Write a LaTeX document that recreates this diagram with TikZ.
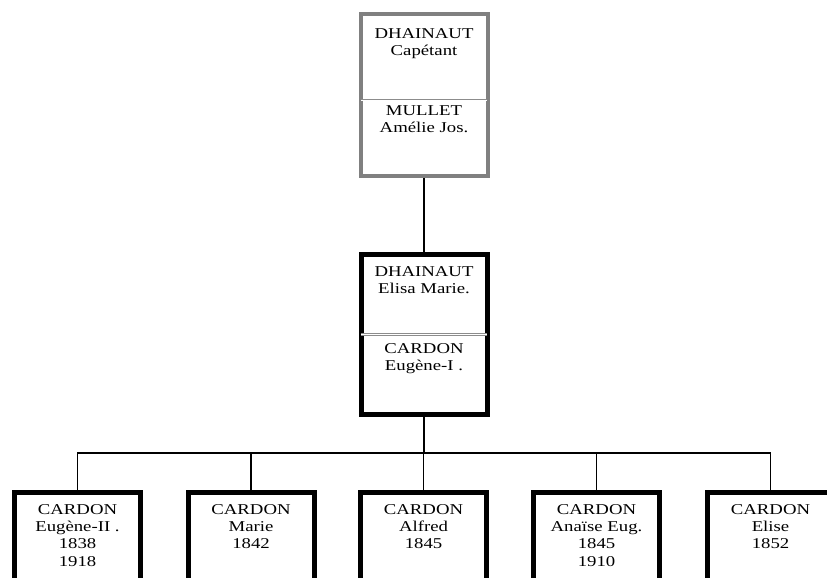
\documentclass[tikz,border=0pt]{standalone}
\usepackage{fontspec}
\setmainfont[FakeStretch=1.25]{Liberation Serif}
\usetikzlibrary{positioning}

\begin{document}
\begin{tikzpicture}[
  x=1pt,y=-1pt,
  font=\fontsize{15}{17.3}\selectfont,
  couple/.style={draw=black,line width=5pt,minimum width=126pt,minimum height=160pt,inner sep=0pt},
  elder/.style={couple,draw=black!50,line width=4pt,minimum width=127pt,minimum height=162pt},
  child/.style={draw=black,line width=5pt,minimum width=126pt,minimum height=200pt,inner sep=0pt},
  person/.style={anchor=north,align=center,inner sep=0pt},
  divider/.style={draw=black!45,double=white,double distance=1pt,line width=.7pt,shorten <=2.5pt,shorten >=2.5pt},
  link/.style={draw=black,line width=1.6pt}
]
  \useasboundingbox (0,0) rectangle (827,578);
  \clip (0,0) rectangle (827,578);

  % parents of the bride
  \node[elder] (p0) at (424,95) {};
  \draw[divider] ([yshift=-5pt]p0.west) -- ([yshift=-5pt]p0.east);
  \node[person] (p0a) at (424,28) {DHAINAUT\\Capétant};
  \node[person] (p0b) at (424,105) {MULLET\\Amélie Jos.};

  % the couple
  \node[couple] (p1) at (424,334.5) {};
  \draw[divider] (p1.west) -- (p1.east);
  \node[person] (p1a) at (424,266) {DHAINAUT\\Elisa Marie.};
  \node[person] (p1b) at (424,343) {CARDON\\Eugène-I .};

  \draw[link] (p0) -- (p1);

  % children
  \node[child] (c1) at (77.5,592.5) {};
  \node[child] (c2) at (251,592.5) {};
  \node[child] (c3) at (423.5,592.5) {};
  \node[child] (c4) at (596.5,592.5) {};
  \node[child] (c5) at (770.5,592.5) {};

  \node[person] (c1t) at (77.5,504) {CARDON\\Eugène-II .\\1838\\1918};
  \node[person] (c2t) at (251,504) {CARDON\\Marie\\1842};
  \node[person] (c3t) at (423.5,504) {CARDON\\Alfred\\1845};
  \node[person] (c4t) at (596.5,504) {CARDON\\Anaïse Eug.\\1845\\1910};
  \node[person] (c5t) at (770.5,504) {CARDON\\Elise\\1852};

  \coordinate (bar) at (424,453);
  \draw[link] (p1) -- (bar);
  \foreach \c in {c1,c2,c3,c4,c5}
    \draw[link] (bar) -| (\c);
\end{tikzpicture}
\end{document}
